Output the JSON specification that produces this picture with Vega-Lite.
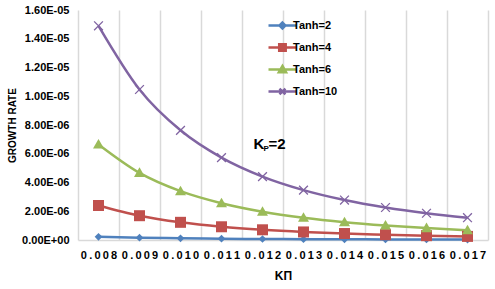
{
  "$schema": "https://vega.github.io/schema/vega-lite/v6.json",
  "width": 410,
  "height": 230,
  "autosize": {"type": "none"},
  "padding": {"left": 78, "top": 10, "right": 7, "bottom": 49},
  "background": "white",
  "config": {"font": "Liberation Sans", "view": {"stroke": null}},
  "data": {"values": [
    {"K": "0.008", "Tanh": "Tanh=2", "rate": 2.2e-7},
    {"K": "0.009", "Tanh": "Tanh=2", "rate": 1.6e-7},
    {"K": "0.010", "Tanh": "Tanh=2", "rate": 1.2e-7},
    {"K": "0.011", "Tanh": "Tanh=2", "rate": 9e-8},
    {"K": "0.012", "Tanh": "Tanh=2", "rate": 7e-8},
    {"K": "0.013", "Tanh": "Tanh=2", "rate": 6e-8},
    {"K": "0.014", "Tanh": "Tanh=2", "rate": 5e-8},
    {"K": "0.015", "Tanh": "Tanh=2", "rate": 4e-8},
    {"K": "0.016", "Tanh": "Tanh=2", "rate": 3.5e-8},
    {"K": "0.017", "Tanh": "Tanh=2", "rate": 3e-8},
    {"K": "0.008", "Tanh": "Tanh=4", "rate": 2.4e-6},
    {"K": "0.009", "Tanh": "Tanh=4", "rate": 1.69e-6},
    {"K": "0.010", "Tanh": "Tanh=4", "rate": 1.23e-6},
    {"K": "0.011", "Tanh": "Tanh=4", "rate": 9.2e-7},
    {"K": "0.012", "Tanh": "Tanh=4", "rate": 7.1e-7},
    {"K": "0.013", "Tanh": "Tanh=4", "rate": 5.6e-7},
    {"K": "0.014", "Tanh": "Tanh=4", "rate": 4.5e-7},
    {"K": "0.015", "Tanh": "Tanh=4", "rate": 3.7e-7},
    {"K": "0.016", "Tanh": "Tanh=4", "rate": 3.0e-7},
    {"K": "0.017", "Tanh": "Tanh=4", "rate": 2.5e-7},
    {"K": "0.008", "Tanh": "Tanh=6", "rate": 6.65e-6},
    {"K": "0.009", "Tanh": "Tanh=6", "rate": 4.67e-6},
    {"K": "0.010", "Tanh": "Tanh=6", "rate": 3.40e-6},
    {"K": "0.011", "Tanh": "Tanh=6", "rate": 2.56e-6},
    {"K": "0.012", "Tanh": "Tanh=6", "rate": 1.97e-6},
    {"K": "0.013", "Tanh": "Tanh=6", "rate": 1.55e-6},
    {"K": "0.014", "Tanh": "Tanh=6", "rate": 1.24e-6},
    {"K": "0.015", "Tanh": "Tanh=6", "rate": 1.01e-6},
    {"K": "0.016", "Tanh": "Tanh=6", "rate": 8.3e-7},
    {"K": "0.017", "Tanh": "Tanh=6", "rate": 6.8e-7},
    {"K": "0.008", "Tanh": "Tanh=10", "rate": 1.49e-5},
    {"K": "0.009", "Tanh": "Tanh=10", "rate": 1.047e-5},
    {"K": "0.010", "Tanh": "Tanh=10", "rate": 7.63e-6},
    {"K": "0.011", "Tanh": "Tanh=10", "rate": 5.73e-6},
    {"K": "0.012", "Tanh": "Tanh=10", "rate": 4.41e-6},
    {"K": "0.013", "Tanh": "Tanh=10", "rate": 3.47e-6},
    {"K": "0.014", "Tanh": "Tanh=10", "rate": 2.78e-6},
    {"K": "0.015", "Tanh": "Tanh=10", "rate": 2.26e-6},
    {"K": "0.016", "Tanh": "Tanh=10", "rate": 1.86e-6},
    {"K": "0.017", "Tanh": "Tanh=10", "rate": 1.55e-6}
  ]},
  "encoding": {
    "x": {
      "field": "K", "type": "nominal", "sort": null,
      "scale": {"paddingInner": 0, "paddingOuter": 0},
      "axis": {
        "title": "KΠ",
        "titleFontSize": 12, "titleFontWeight": "bold", "titleColor": "black", "titlePadding": 10,
        "labelAngle": 0, "labelFontSize": 11, "labelFontWeight": "bold", "labelColor": "black",
        "labelPadding": 9,
        "labelExpr": "trim(replace(datum.label, regexp('(.)', 'g'), '$1\u2009'))",
        "tickBand": "extent", "grid": true, "gridColor": "#D9D9D9", "gridWidth": 1.5,
        "ticks": false, "domainColor": "#D9D9D9", "domainWidth": 1.5
      }
    },
    "y": {
      "field": "rate", "type": "quantitative",
      "scale": {"domain": [0, 1.6e-5], "nice": false},
      "axis": {
        "title": "GROWTH RATE", "titleFontSize": 10, "titleFontWeight": "bold", "titleColor": "black", "titlePadding": 4,
        "labelFontSize": 11, "labelFontWeight": "bold", "labelColor": "black", "labelPadding": 9,
        "values": [0, 2e-6, 4e-6, 6e-6, 8e-6, 1e-5, 1.2e-5, 1.4e-5, 1.6e-5],
        "labelExpr": "replace(replace(format(datum.value, '.2e'), 'e-', 'E-0'), 'e+', 'E+0')",
        "grid": false, "domain": false, "ticks": false
      }
    },
    "color": {
      "field": "Tanh", "type": "nominal",
      "scale": {"domain": ["Tanh=2", "Tanh=4", "Tanh=6", "Tanh=10"], "range": ["#4F81BD", "#C0504D", "#9BBB59", "#8064A2"]},
      "legend": {
        "orient": "none", "legendX": 189, "legendY": 5, "title": null,
        "labelFontSize": 11, "labelFontWeight": "bold", "labelColor": "black",
        "symbolSize": 324, "rowPadding": 3, "labelOffset": 5,
        "symbolStrokeWidth": 2.5, "symbolOpacity": 1,
        "encode": {"symbols": {"update": {
          "shape": {"signal": "datum.value == 'Tanh=2' ? 'M-1,0H2.1M0.55,-0.33L0.88,0L0.55,0.33L0.22,0Z' : datum.value == 'Tanh=4' ? 'M-1,0H2.1M0.19,-0.36H0.91V0.36H0.19Z' : datum.value == 'Tanh=6' ? 'M-1,0H2.1M0.55,-0.4L0.95,0.3H0.15Z' : 'M-1,0H2.1M0.22,-0.33L0.88,0.33M0.22,0.33L0.88,-0.33'"},
          "fill": {"signal": "datum.value == 'Tanh=2' ? '#4F81BD' : datum.value == 'Tanh=4' ? '#C0504D' : datum.value == 'Tanh=6' ? '#9BBB59' : 'transparent'"}
        }}}
      }
    }
  },
  "layer": [
    {
      "mark": {"type": "line", "interpolate": "monotone", "strokeWidth": 2.5}
    },
    {
      "transform": [{"filter": "datum.Tanh == 'Tanh=2'"}],
      "mark": {"type": "point", "filled": true, "opacity": 1, "size": 121, "shape": "M0,-0.7L0.7,0L0,0.7L-0.7,0Z"}
    },
    {
      "transform": [{"filter": "datum.Tanh == 'Tanh=4'"}],
      "mark": {"type": "point", "filled": true, "opacity": 1, "size": 121, "shape": "M-1,-1H1V1H-1Z"}
    },
    {
      "transform": [{"filter": "datum.Tanh == 'Tanh=6'"}],
      "mark": {"type": "point", "filled": true, "opacity": 1, "size": 121, "shape": "M0,-1L1,0.75H-1Z"}
    },
    {
      "transform": [{"filter": "datum.Tanh == 'Tanh=10'"}],
      "mark": {"type": "point", "filled": false, "opacity": 1, "size": 121, "strokeWidth": 1.3, "shape": "M-0.8,-0.8L0.8,0.8M-0.8,0.8L0.8,-0.8"}
    },
    {
      "data": {"values": [{"K": "0.012", "rate": 6.65e-6, "t": "K"}]},
      "mark": {"type": "text", "align": "left", "baseline": "middle", "dx": -9, "fontSize": 15, "fontWeight": "bold", "color": "black"},
      "encoding": {"text": {"field": "t"}, "color": {"value": "black"}}
    },
    {
      "data": {"values": [{"K": "0.012", "rate": 6.65e-6, "t": "P"}]},
      "mark": {"type": "text", "align": "left", "baseline": "middle", "dx": 1, "dy": 5, "fontSize": 8, "fontWeight": "bold", "color": "black"},
      "encoding": {"text": {"field": "t"}, "color": {"value": "black"}}
    },
    {
      "data": {"values": [{"K": "0.012", "rate": 6.65e-6, "t": "=2"}]},
      "mark": {"type": "text", "align": "left", "baseline": "middle", "dx": 6, "fontSize": 15, "fontWeight": "bold", "color": "black"},
      "encoding": {"text": {"field": "t"}, "color": {"value": "black"}}
    }
  ]
}
